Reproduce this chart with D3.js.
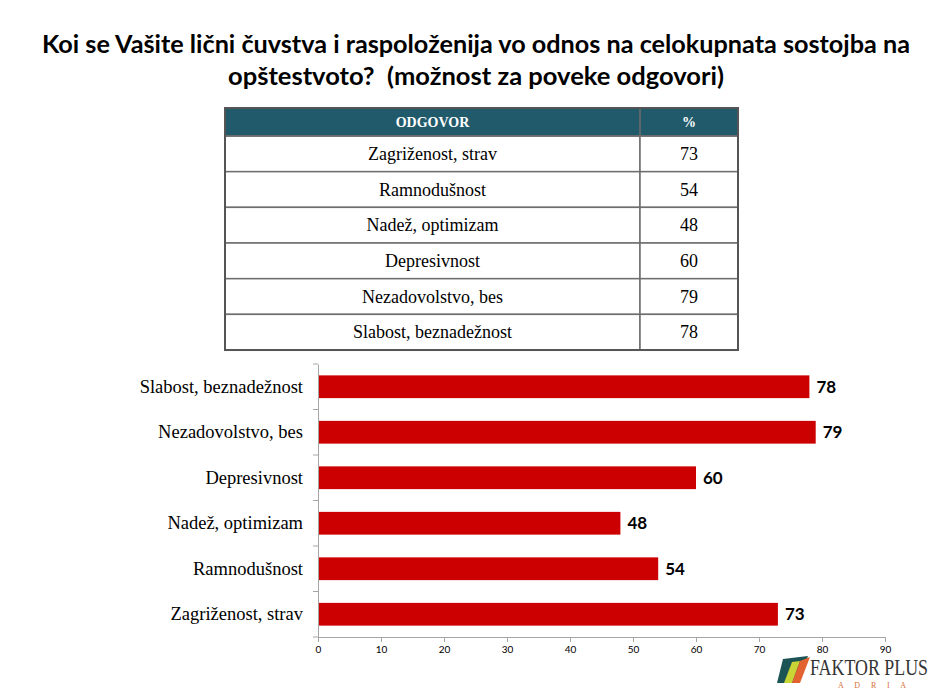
<!DOCTYPE html>
<html>
<head>
<meta charset="utf-8">
<script src="https://cdn.jsdelivr.net/npm/d3@7"></script>
<style>
  body { margin: 0; background: #fff; }
  svg { display: block; }
</style>
</head>
<body>
<div class="chart"></div>
<script>
// Données
const categories = ['Zagriženost, strav', 'Ramnodušnost', 'Nadež, optimizam', 'Depresivnost', 'Nezadovolstvo, bes', 'Slabost, beznadežnost']
const values = [73, 54, 48, 60, 79, 78]
const xTicks = [0, 10, 20, 30, 40, 50, 60, 70, 80, 90]
const titleLines = ['Koi se Vašite lični čuvstva i raspoloženija vo odnos na celokupnata sostojba na', 'opštestvoto?  (možnost za poveke odgovori)']
const tableHeader = ['ODGOVOR', '%']

const width = 952,
    height = 700

const svg = d3.select('.chart')
    .append('svg')
    .attr('width', width)
    .attr('height', height)

// Titre (largeurs calées sur l'original)
const titleWidths = [868, 496]
svg.append('g')
    .selectAll('text')
    .data(titleLines)
    .join('text')
    .attr('x', width / 2)
    .attr('y', (d, i) => 53 + i * 32)
    .attr('text-anchor', 'middle')
    .attr('textLength', (d, i) => titleWidths[i])
    .attr('lengthAdjust', 'spacingAndGlyphs')
    .style('white-space', 'pre')
    .style('font-family', 'Lato, sans-serif')
    .style('font-weight', 'bold')
    .style('font-size', '24px')
    .attr('fill', '#000')
    .text(d => d)

/**---------------------------------------------
 * Tableau
 *--------------------------------------------*/
const table = { left: 225, right: 738, split: 640, top: 108, headH: 28, rowH: 35.67 }
const rows = categories.map((c, i) => ({ name: c, value: values[i] }))
const serif = 'Liberation Serif, Times New Roman, serif'
const border = '#6e6e6e'

const gT = svg.append('g')

gT.append('rect')
    .attr('x', table.left)
    .attr('y', table.top)
    .attr('width', table.right - table.left)
    .attr('height', table.headH)
    .attr('fill', '#215a6b')

rows.forEach((r, i) => {
    const y0 = table.top + table.headH + i * table.rowH
    gT.append('rect')
        .attr('x', table.left)
        .attr('y', y0)
        .attr('width', table.split - table.left)
        .attr('height', table.rowH)
        .attr('fill', '#fff')
        .attr('stroke', border)
        .attr('stroke-width', 1.5)
    gT.append('rect')
        .attr('x', table.split)
        .attr('y', y0)
        .attr('width', table.right - table.split)
        .attr('height', table.rowH)
        .attr('fill', '#fff')
        .attr('stroke', border)
        .attr('stroke-width', 1.5)
    gT.append('text')
        .attr('x', (table.left + table.split) / 2)
        .attr('y', y0 + table.rowH / 2 + 6)
        .attr('text-anchor', 'middle')
        .style('font-family', serif)
        .style('font-size', '18px')
        .text(r.name)
    gT.append('text')
        .attr('x', (table.split + table.right) / 2)
        .attr('y', y0 + table.rowH / 2 + 6)
        .attr('text-anchor', 'middle')
        .style('font-family', serif)
        .style('font-size', '18px')
        .text(r.value)
})

// Bordures de l'en-tête
gT.append('rect')
    .attr('x', table.left)
    .attr('y', table.top)
    .attr('width', table.right - table.left)
    .attr('height', table.headH)
    .attr('fill', 'none')
    .attr('stroke', border)
    .attr('stroke-width', 1.5)
gT.append('line')
    .attr('x1', table.split).attr('x2', table.split)
    .attr('y1', table.top).attr('y2', table.top + table.headH)
    .attr('stroke', border)
    .attr('stroke-width', 1.5)
// Cadre extérieur un peu plus épais
gT.append('rect')
    .attr('x', table.left)
    .attr('y', table.top)
    .attr('width', table.right - table.left)
    .attr('height', table.headH + rows.length * table.rowH)
    .attr('fill', 'none')
    .attr('stroke', '#555')
    .attr('stroke-width', 2)

gT.selectAll('.head')
    .data(tableHeader)
    .join('text')
    .attr('class', 'head')
    .attr('x', (d, i) => i === 0 ? (table.left + table.split) / 2 : (table.split + table.right) / 2)
    .attr('y', table.top + table.headH / 2 + 5)
    .attr('text-anchor', 'middle')
    .style('font-family', serif)
    .style('font-weight', 'bold')
    .style('font-size', '14px')
    .attr('fill', '#fff')
    .text(d => d)

/**---------------------------------------------
 * Graphe
 *--------------------------------------------*/
const x = d3.scaleLinear()
    .domain([0, 90])
    .range([318, 885])

const order = rows.slice().reverse()
const y = d3.scaleBand()
    .domain(order.map(d => d.name))
    .range([364, 637])
    .paddingInner(0.5)
    .paddingOuter(0.25)

const gC = svg.append('g')

// Barres
gC.selectAll('.bar')
    .data(order)
    .join('rect')
    .attr('class', 'bar')
    .attr('x', x(0))
    .attr('y', d => y(d.name))
    .attr('width', d => x(d.value) - x(0))
    .attr('height', y.bandwidth())
    .attr('fill', '#cc0000')

// Valeurs
gC.selectAll('.val')
    .data(order)
    .join('text')
    .attr('class', 'val')
    .attr('x', d => x(d.value) + 7)
    .attr('y', d => y(d.name) + y.bandwidth() / 2 + 6)
    .style('font-family', 'Lato, sans-serif')
    .style('font-weight', 'bold')
    .style('font-size', '17px')
    .text(d => d.value)

// Axe Y
const yAxis = gC.append('g')
    .attr('transform', `translate(${x(0)}, 0)`)
    .call(d3.axisLeft(y).tickSize(0).tickPadding(15))
yAxis.select('.domain').attr('stroke', '#a6a6a6')
yAxis.selectAll('text')
    .style('font-family', serif)
    .style('font-size', '18.5px')
    .attr('fill', '#000')

// Petits traits entre les catégories
const bounds = order.map(d => y(d.name) - y.step() * y.paddingInner() / 2).concat([y.range()[1]])
gC.selectAll('.ytick')
    .data(bounds)
    .join('line')
    .attr('class', 'ytick')
    .attr('x1', x(0) - 5).attr('x2', x(0))
    .attr('y1', d => d).attr('y2', d => d)
    .attr('stroke', '#a6a6a6')

// Axe X
const xAxis = gC.append('g')
    .attr('transform', `translate(0, ${y.range()[1]})`)
    .call(d3.axisBottom(x).tickValues(xTicks).tickSize(5).tickPadding(4).tickSizeOuter(0))
xAxis.selectAll('line, .domain').attr('stroke', '#a6a6a6')
xAxis.selectAll('text')
    .style('font-family', 'Lato, sans-serif')
    .style('font-size', '10px')
    .attr('fill', '#000')

/**---------------------------------------------
 * Logo
 *--------------------------------------------*/
const gL = svg.append('g')
    .attr('transform', 'translate(0, 2)')
gL.append('path')
    .attr('d', 'M 783 657 L 808 654 L 798 681 L 777 681 Z')
    .attr('fill', '#1c5455')
gL.append('path')
    .attr('d', 'M 792 660 L 800 659 L 792 681 L 784 681 Z')
    .attr('fill', '#c9d435')
gL.append('path')
    .attr('d', 'M 800 659 L 810 655 L 800 681 L 792 681 Z')
    .attr('fill', '#e2632f')
// Texte étiré en hauteur comme le logo original
gL.append('text')
    .attr('transform', 'translate(810, 673) scale(1, 1.35)')
    .style('font-family', serif)
    .style('font-size', '17px')
    .attr('fill', '#333')
    .attr('textLength', 118)
    .attr('lengthAdjust', 'spacingAndGlyphs')
    .text('FAKTOR PLUS')
gL.append('text')
    .attr('x', 838)
    .attr('y', 686)
    .style('font-family', serif)
    .style('font-size', '8px')
    .attr('fill', '#d8703a')
    .attr('textLength', 68)
    .text('A D R I A')
</script>
</body>
</html>
